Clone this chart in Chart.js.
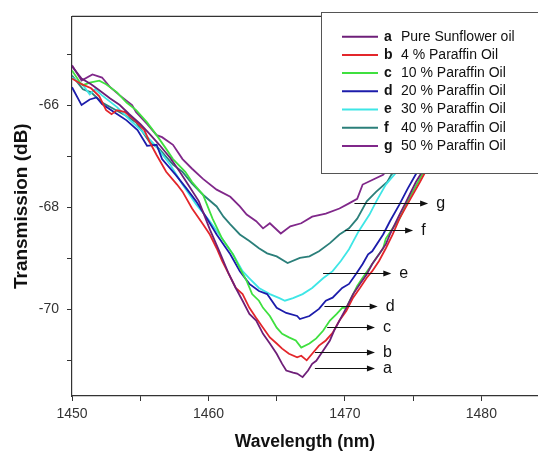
<!DOCTYPE html>
<html>
<head>
<meta charset="utf-8">
<script src="https://cdn.jsdelivr.net/npm/chart.js@4.4.0/dist/chart.umd.min.js"></script>
<style>
html, body { margin: 0; padding: 0; background: #fff; overflow: hidden; }
</style>
</head>
<body>
<canvas id="chart" width="538" height="453"></canvas>
<script>
// series: wavelength (nm) and transmission (dB)
const wlA = [1450, 1450.7, 1451.4, 1452.0, 1452.8, 1453.5, 1454.2, 1455.0, 1455.7, 1456.4, 1457.2, 1457.9, 1458.6, 1459.3, 1460.1, 1460.8, 1461.5, 1462.0, 1462.5, 1463.0, 1463.5, 1464.0, 1464.5, 1465.0, 1465.4, 1465.7, 1466.2, 1466.5, 1466.9, 1467.3, 1467.6, 1467.9, 1468.4, 1468.9, 1469.2, 1469.6, 1470.1, 1470.6, 1471.1, 1471.6, 1472.0, 1472.5, 1473.0, 1473.3, 1474.0, 1474.5, 1475.2, 1476.2]
const tA = [-65.23, -65.47, -65.58, -65.70, -65.86, -65.99, -66.17, -66.36, -66.56, -66.77, -67.03, -67.30, -67.59, -67.88, -68.43, -68.86, -69.31, -69.58, -69.83, -70.09, -70.22, -70.48, -70.67, -70.87, -71.07, -71.20, -71.24, -71.26, -71.33, -71.20, -71.07, -71.01, -70.81, -70.61, -70.42, -70.22, -69.97, -69.70, -69.50, -69.31, -69.11, -68.92, -68.72, -68.53, -68.14, -67.88, -67.50, -67.07]

const wlB = [1450, 1450.7, 1451.4, 1452.0, 1452.5, 1452.9, 1453.3, 1453.9, 1454.6, 1455.3, 1455.7, 1456.2, 1456.9, 1457.7, 1458.1, 1458.8, 1459.6, 1460.1, 1460.6, 1461.0, 1461.5, 1462.0, 1462.5, 1463.0, 1463.5, 1464.0, 1464.5, 1465.0, 1465.4, 1465.9, 1466.5, 1466.8, 1467.2, 1467.6, 1468.1, 1468.6, 1469.1, 1469.6, 1470.1, 1470.6, 1471.1, 1471.6, 1472.0, 1472.5, 1473.0, 1473.5, 1474.0, 1474.7, 1475.5, 1476.3]
const tB = [-65.47, -65.58, -65.66, -65.82, -66.09, -66.17, -66.09, -66.13, -66.29, -66.48, -66.72, -66.97, -67.30, -67.55, -67.69, -68.02, -68.33, -68.53, -68.80, -69.05, -69.31, -69.58, -69.70, -69.97, -70.17, -70.36, -70.55, -70.67, -70.77, -70.87, -70.94, -70.91, -71.00, -70.87, -70.71, -70.61, -70.46, -70.22, -70.03, -69.77, -69.58, -69.38, -69.25, -69.05, -68.80, -68.53, -68.22, -67.88, -67.50, -67.10]

const wlC = [1450, 1450.6, 1450.8, 1451.3, 1452.0, 1452.5, 1453.3, 1454.0, 1454.7, 1455.5, 1456.2, 1456.9, 1457.4, 1458.3, 1458.8, 1459.6, 1460.3, 1461.0, 1461.8, 1462.3, 1462.8, 1463.2, 1463.7, 1464.0, 1464.5, 1465.0, 1465.4, 1465.9, 1466.4, 1466.8, 1467.4, 1467.9, 1468.4, 1468.9, 1469.4, 1469.8, 1470.1, 1470.6, 1470.9, 1471.3, 1471.8, 1472.3, 1472.8, 1473.0, 1473.5, 1474.0, 1474.6, 1475.3, 1476.2]
const tC = [-65.31, -65.55, -65.60, -65.55, -65.51, -65.58, -65.74, -65.94, -66.09, -66.33, -66.58, -66.85, -67.05, -67.30, -67.50, -67.75, -68.22, -68.61, -68.92, -69.19, -69.44, -69.70, -69.83, -69.97, -70.13, -70.36, -70.48, -70.55, -70.61, -70.75, -70.67, -70.57, -70.42, -70.22, -70.09, -69.97, -69.97, -69.70, -69.54, -69.38, -69.19, -68.99, -68.80, -68.61, -68.41, -68.22, -67.88, -67.53, -67.10]

const wlD = [1450, 1450.7, 1451.3, 1451.8, 1452.2, 1453.1, 1454.0, 1454.8, 1455.5, 1456.2, 1456.6, 1457.6, 1458.4, 1459.1, 1459.9, 1460.6, 1461.6, 1462.3, 1463.0, 1463.7, 1464.3, 1465.0, 1465.7, 1466.5, 1466.7, 1467.4, 1468.1, 1468.6, 1469.1, 1469.8, 1470.3, 1470.8, 1471.3, 1471.7, 1472.0, 1472.8, 1473.3, 1474.0, 1474.6, 1475.3, 1476.2]
const tD = [-65.64, -65.99, -65.88, -65.84, -65.97, -66.13, -66.29, -66.48, -66.79, -66.77, -67.05, -67.36, -67.63, -67.88, -68.22, -68.53, -68.92, -69.25, -69.50, -69.64, -69.70, -69.97, -70.07, -70.13, -70.19, -70.13, -69.99, -69.83, -69.77, -69.58, -69.50, -69.31, -69.11, -68.92, -68.86, -68.53, -68.27, -67.94, -67.63, -67.30, -66.90]

const wlE = [1450, 1450.8, 1451.3, 1451.7, 1452.2, 1453.3, 1454.2, 1455.2, 1456.2, 1457.2, 1458.1, 1459.1, 1460.1, 1461.0, 1461.8, 1462.5, 1463.0, 1463.7, 1464.5, 1465.2, 1465.6, 1466.2, 1466.9, 1467.6, 1468.4, 1469.1, 1469.7, 1470.3, 1471.0, 1471.8, 1472.3, 1473.0, 1473.8, 1474.7]
const tE = [-65.45, -65.60, -65.78, -65.68, -65.80, -66.03, -66.27, -66.52, -66.81, -67.16, -67.55, -67.94, -68.27, -68.61, -68.92, -69.25, -69.39, -69.58, -69.70, -69.78, -69.83, -69.78, -69.70, -69.58, -69.39, -69.25, -69.05, -68.82, -68.47, -68.14, -67.88, -67.55, -67.30, -66.91]

const wlF = [1450, 1450.8, 1451.4, 1452.2, 1453.9, 1454.7, 1455.7, 1456.4, 1457.4, 1458.1, 1458.8, 1459.6, 1460.6, 1461.1, 1461.6, 1462.3, 1463.0, 1463.7, 1464.3, 1465.0, 1465.8, 1466.7, 1467.4, 1468.1, 1468.9, 1469.6, 1470.3, 1470.9, 1471.6, 1472.3, 1473.1, 1473.4, 1474.4, 1475.5]
const tF = [-65.41, -65.68, -65.74, -65.94, -66.19, -66.33, -66.72, -66.85, -67.16, -67.30, -67.53, -67.75, -67.98, -68.18, -68.33, -68.53, -68.66, -68.80, -68.90, -68.96, -69.09, -68.99, -68.96, -68.86, -68.70, -68.53, -68.41, -68.22, -67.88, -67.69, -67.50, -67.36, -67.00, -66.62]

const wlG = [1450, 1450.7, 1451.5, 1452.2, 1452.8, 1453.5, 1454.4, 1454.7, 1455.5, 1456.2, 1456.6, 1457.4, 1458.1, 1458.8, 1459.6, 1460.6, 1461.6, 1462.3, 1462.8, 1463.5, 1464.0, 1464.5, 1465.3, 1466.0, 1466.8, 1467.6, 1468.6, 1469.6, 1470.3, 1470.9, 1471.3, 1472.0, 1472.8, 1473.6, 1474.7, 1476.2]
const tG = [-65.21, -65.51, -65.39, -65.45, -65.64, -65.80, -65.99, -66.13, -66.36, -66.58, -66.62, -66.77, -67.05, -67.24, -67.44, -67.65, -67.79, -67.98, -68.14, -68.27, -68.41, -68.31, -68.51, -68.37, -68.31, -68.18, -68.12, -68.02, -67.92, -67.83, -67.55, -67.46, -67.36, -67.10, -66.70, -66.30]

const seriesKeys = ['a', 'b', 'c', 'd', 'e', 'f', 'g']
const seriesNames = ['Pure Sunflower oil', '4 % Paraffin Oil', '10 % Paraffin Oil', '20 % Paraffin Oil', '30 % Paraffin Oil', '40 % Paraffin Oil', '50 % Paraffin Oil']
const seriesWl = [wlA, wlB, wlC, wlD, wlE, wlF, wlG]
const seriesT = [tA, tB, tC, tD, tE, tF, tG]
const seriesColors = ['#6e1f78', '#e3262b', '#3fe03f', '#1c1cab', '#3ee6e6', '#2b7f7a', '#80288a']

// where each label arrow sits (dB level, wavelength from/to)
const arrowLevel = [-71.16, -70.84, -70.35, -69.93, -69.29, -68.44, -67.92]
const arrowFrom = [1467.8, 1467.8, 1468.7, 1468.5, 1468.4, 1470.0, 1470.7]
const arrowTo = [1472.2, 1472.2, 1472.2, 1472.4, 1473.4, 1475.0, 1476.1]

const FONT = 'Arial, "Liberation Sans", sans-serif'

const datasets = seriesKeys.map((k, i) => ({
    label: seriesNames[i],
    data: seriesWl[i].map((w, j) => ({ x: w, y: seriesT[i][j] })),
    borderColor: seriesColors[i],
    borderWidth: 1.8,
    pointRadius: 0,
    tension: 0,
    fill: false
}))

// top frame line, arrows with letters, and the boxed legend
const decorations = {
    id: 'decorations',
    afterDatasetsDraw(chart) {
        const { ctx, chartArea, scales } = chart
        const xs = scales.x
        const ys = scales.y
        ctx.save()

        ctx.strokeStyle = '#333'
        ctx.lineWidth = 1.2
        ctx.beginPath()
        ctx.moveTo(chartArea.left, chartArea.top)
        ctx.lineTo(chartArea.right, chartArea.top)
        ctx.stroke()

        // arrows
        ctx.fillStyle = '#111'
        ctx.strokeStyle = '#111'
        ctx.lineWidth = 1
        ctx.font = '16px ' + FONT
        ctx.textBaseline = 'middle'
        ctx.textAlign = 'left'
        seriesKeys.forEach((k, i) => {
            const y = Math.round(ys.getPixelForValue(arrowLevel[i])) + 0.5
            const x0 = xs.getPixelForValue(arrowFrom[i])
            const x1 = xs.getPixelForValue(arrowTo[i])
            ctx.beginPath()
            ctx.moveTo(x0, y)
            ctx.lineTo(x1 - 6, y)
            ctx.stroke()
            ctx.beginPath()
            ctx.moveTo(x1, y)
            ctx.lineTo(x1 - 8, y - 3)
            ctx.lineTo(x1 - 8, y + 3)
            ctx.closePath()
            ctx.fill()
            ctx.fillText(k, x1 + 8, y)
        })

        // legend box
        ctx.fillStyle = '#fff'
        ctx.fillRect(321, 12, 240, 161)
        ctx.strokeStyle = '#555'
        ctx.lineWidth = 1
        ctx.strokeRect(321.5, 12.5, 240, 161)

        seriesKeys.forEach((k, i) => {
            const y = 36.7 + i * 18.2
            ctx.strokeStyle = seriesColors[i]
            ctx.lineWidth = 2
            ctx.beginPath()
            ctx.moveTo(342, y)
            ctx.lineTo(378, y)
            ctx.stroke()
            ctx.fillStyle = '#111'
            ctx.font = 'bold 14px ' + FONT
            ctx.fillText(k, 384, y)
            ctx.font = '14px ' + FONT
            ctx.fillText(seriesNames[i], 401, y)
        })
        ctx.restore()
    }
}

new Chart(document.getElementById('chart'), {
    type: 'line',
    data: { datasets: datasets },
    plugins: [decorations],
    options: {
        responsive: false,
        animation: false,
        layout: { padding: { top: 13, left: 0, right: 0, bottom: 0 } },
        plugins: {
            legend: { display: false },
            tooltip: { enabled: false }
        },
        scales: {
            x: {
                type: 'linear',
                min: 1450,
                max: 1484.15,
                afterFit: (scale) => { scale.height = 57 },
                border: { color: '#333', width: 1.2 },
                grid: { drawOnChartArea: false, drawTicks: true, tickLength: 5, tickColor: '#333' },
                ticks: {
                    stepSize: 5,
                    includeBounds: false,
                    autoSkip: false,
                    maxRotation: 0,
                    padding: 5,
                    color: '#333',
                    font: { size: 14, family: FONT },
                    callback: (v) => (v % 10 === 0 ? String(v) : '')
                },
                title: {
                    display: true,
                    text: 'Wavelength (nm)',
                    color: '#111',
                    font: { size: 17.5, weight: 'bold', family: FONT },
                    padding: { top: 0, bottom: 0 }
                }
            },
            y: {
                min: -71.7,
                max: -64.25,
                afterFit: (scale) => { scale.width = 72 },
                border: { color: '#333', width: 1.2 },
                grid: { drawOnChartArea: false, drawTicks: true, tickLength: 5, tickColor: '#333' },
                ticks: {
                    stepSize: 1,
                    includeBounds: false,
                    autoSkip: false,
                    padding: 8,
                    color: '#333',
                    font: { size: 14, family: FONT },
                    callback: (v) => (Math.round(v) % 2 === 0 ? String(v) : '')
                },
                title: {
                    display: true,
                    text: 'Transmission (dB)',
                    color: '#111',
                    font: { size: 19, weight: 'bold', family: FONT },
                    padding: { top: 10, bottom: 0 }
                }
            }
        }
    }
})
</script>
</body>
</html>
